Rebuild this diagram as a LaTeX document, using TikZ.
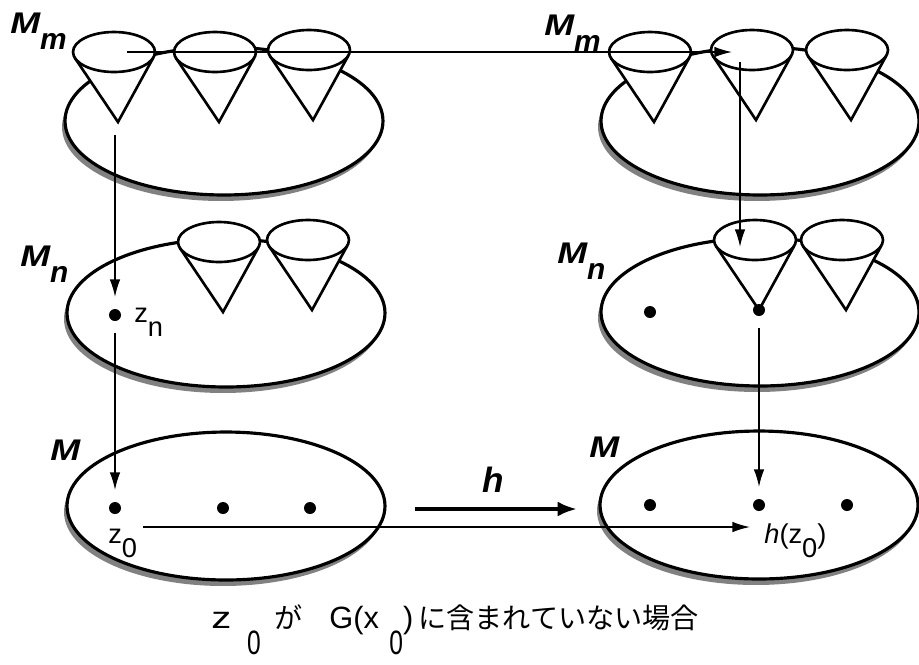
\documentclass[tikz,border=0pt]{standalone}
\usepackage{fontspec}
\usepackage{graphicx}
\setmainfont{Liberation Sans}
\newfontfamily\cjk{Noto Sans CJK JP}
\usetikzlibrary{arrows.meta, positioning, shapes.geometric, shadows}

\newcommand{\lo}[1]{\raisebox{-0.55em}{#1}}
\newcommand{\wideM}{\scalebox{1.2}[1]{M}}
\newcommand{\capsub}[1]{\raisebox{-15pt}{\scalebox{0.8}[1.1]{#1}}}

\tikzset{
  sheet/.style={ellipse, draw=black, line width=1.8pt, fill=white, minimum width=6.36cm, minimum height=2.96cm, inner sep=0pt,
    drop shadow={shadow xshift=-0.06cm, shadow yshift=-0.12cm, fill=black!55, opacity=0.9}},
  dot/.style={circle, fill=black, inner sep=0pt, minimum size=0.24cm, outer sep=0.24cm},
  arr/.style={-{Latex[length=10pt, width=6pt]}, line width=0.9pt},
  harr/.style={-{Latex[length=11pt, width=8.5pt]}, line width=2.3pt},
  lbl/.style={inner sep=0pt, anchor=base west, font=\fontsize{17}{19}\selectfont\bfseries\itshape},
  ptlbl/.style={inner sep=0pt, anchor=base west, font=\fontsize{15.5}{18}\selectfont},
  cone/.pic={
    \fill[white] (-39.3,5.7) -- (4,70) -- (39.3,5.7) -- cycle;
    \draw[line width=1.5pt, line join=miter] (-39.3,5.7) -- (4,70) -- (39.3,5.7);
    \draw[line width=1.5pt, fill=white] (0,0) ellipse [x radius=41, y radius=20];
  }
}

\begin{document}
\begin{tikzpicture}[x=0.02cm, y=-0.02cm]
    \useasboundingbox (0,0) rectangle (919,664);

    % sheets
    \node[sheet] (Mm1) at (224,121) {};
    \node[sheet] (Mm2) at (760,121) {};
    \node[sheet] (Mn1) at (226,313) {};
    \node[sheet] (Mn2) at (760,312) {};
    \node[sheet] (M1) at (226,506) {};
    \node[sheet] (M2) at (759,505) {};

    % cones
    \pic (tl1) at (114,52) {cone};
    \pic (tl2) at (215,52) {cone};
    \pic (tl3) at (309,50) {cone};
    \pic (tr1) at (650,52) {cone};
    \pic (tr2) at (752,50) {cone};
    \pic (tr3) at (847,50) {cone};
    \pic (ml1) at (219,242) {cone};
    \pic (ml2) at (308,240) {cone};
    \pic (mr1) at (755,240) {cone};
    \pic (mr2) at (842,240) {cone};

    % points
    \node[dot] (zn) at (115,315) {};
    \node[dot] (pn) at (650,312) {};
    \node[dot] (ap) at (759,310) {};
    \node[dot] (z0) at (115,508) {};
    \node[dot] (p1) at (223,508) {};
    \node[dot] (p2) at (310,508) {};
    \node[dot] (q1) at (650,505) {};
    \node[dot] (hz) at (759,505) {};
    \node[dot] (q2) at (847,505) {};

    % labels
    \node[lbl] (lMm1) at (10,33) {\wideM\lo{m}};
    \node[lbl] (lMm2) at (544,35) {\wideM\lo{m}};
    \node[lbl] (lMn1) at (20,266) {\wideM\lo{n}};
    \node[lbl] (lMn2) at (557,263) {\wideM\lo{n}};
    \node[lbl] (lM1) at (50,460) {\wideM};
    \node[lbl] (lM2) at (589,457) {\wideM};
    \node[ptlbl] (lzn) at (134,322) {z\lo{n}};
    \node[ptlbl] (lz0) at (108,543) {z\lo{0}};
    \node[ptlbl] (lhz) at (764,543) {{\itshape h}(z\lo{0})};

    % connectors
    \coordinate (a0) at (127,52);
    \coordinate (a1) at (732,52);
    \draw[arr] (a0) -- (a1);
    \coordinate (b0) at (740,62);
    \coordinate (b1) at (740,247);
    \draw[arr] (b0) -- (b1);
    \coordinate (c0) at (115,135);
    \draw[arr] (c0) -- (zn);
    \draw[arr] (zn) -- (z0);
    \draw[arr] (ap) -- (hz);
    \coordinate (d0) at (143,527);
    \coordinate (d1) at (750,527);
    \draw[arr] (d0) -- (d1);
    \coordinate (h0) at (415,509);
    \coordinate (h1) at (577,509);
    \draw[harr] (h0) -- (h1);
    \node[inner sep=0pt, anchor=base, font=\fontsize{20}{22}\selectfont\bfseries\itshape] (lh) at (493,492) {h};

    % caption
    \node[inner sep=0pt, anchor=base west, font=\fontsize{17.5}{20}\selectfont] (capt) at (211,628)
        {\scalebox{1.3}[1]{z}\hspace{9pt}\capsub{0}\hspace{8pt}{\cjk\fontsize{16}{18}\selectfont が}\hspace{15pt}G(x\hspace{6pt}\capsub{0})\hspace{3pt}{\cjk\fontsize{16}{18}\selectfont に含まれていない場合}};
\end{tikzpicture}
\end{document}
